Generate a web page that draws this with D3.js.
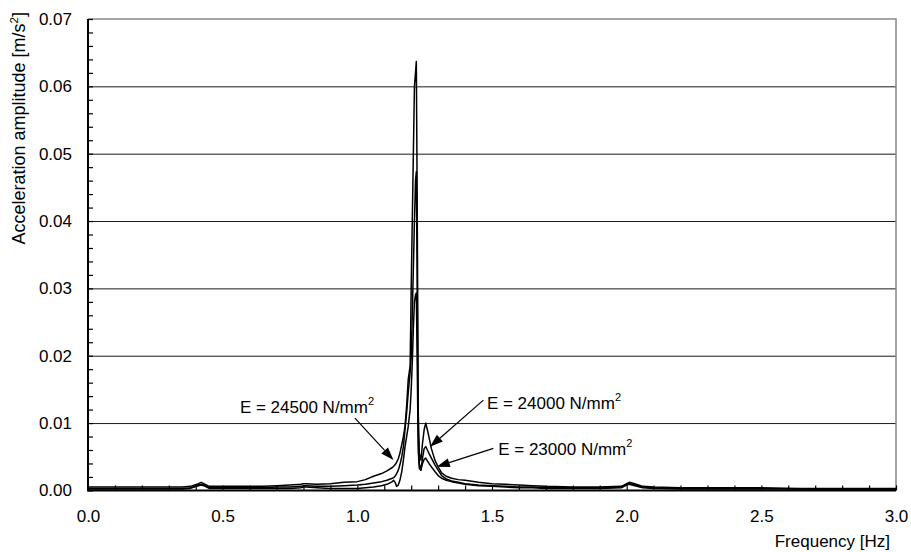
<!DOCTYPE html>
<html>
<head>
<meta charset="utf-8">
<script src="https://cdn.jsdelivr.net/npm/d3@7"></script>
<style>
  html, body { margin: 0; padding: 0; background: #fff; }
  svg { display: block; }
  text { font-family: "Liberation Sans", Arial, sans-serif; fill: #000; }
</style>
</head>
<body>
<svg id="chart" width="911" height="552"></svg>
<script>
// ---------- data ----------
const freq = [0.00,0.05,0.10,0.15,0.20,0.25,0.30,0.35,0.38,0.41,0.42,0.43,0.45,0.50,0.55,0.60,0.65,0.70,0.75,0.79,0.80,0.81,0.85,0.90,0.95,1.00,1.03,1.06,1.09,1.11,1.13,1.135,1.14,1.146,1.152,1.158,1.165,1.171,1.177,1.183,1.189,1.196,1.200,1.204,1.208,1.212,1.216,1.219,1.222,1.226,1.230,1.236,1.242,1.248,1.254,1.260,1.266,1.275,1.288,1.300,1.313,1.330,1.350,1.375,1.40,1.45,1.50,1.55,1.60,1.65,1.70,1.80,1.90,1.98,2.00,2.01,2.03,2.06,2.10,2.20,2.30,2.40,2.50,2.60,2.70,2.80,2.90,3.00];

const accE24500 = [0.0005,0.0005,0.0005,0.0005,0.0005,0.0005,0.0005,0.0005,0.0006,0.0010,0.0012,0.0010,0.0006,0.0006,0.0006,0.0006,0.0006,0.0007,0.0008,0.0009,0.0010,0.0010,0.0009,0.0010,0.0012,0.0013,0.0016,0.0021,0.0025,0.0029,0.0034,0.0036,0.0038,0.0042,0.0047,0.0055,0.0068,0.0080,0.0095,0.0125,0.0165,0.0185,0.0300,0.0400,0.0500,0.0600,0.0620,0.0637,0.0450,0.0120,0.0055,0.0045,0.0070,0.0090,0.0100,0.0090,0.0079,0.0062,0.0045,0.0035,0.0026,0.0021,0.0018,0.0016,0.0015,0.0012,0.0010,0.0009,0.0008,0.0007,0.0006,0.0005,0.0005,0.0006,0.0010,0.0012,0.0010,0.0006,0.0005,0.0004,0.0004,0.0004,0.0004,0.0003,0.0003,0.0003,0.0003,0.0003];

const accE24000 = [0.0003,0.0003,0.0003,0.0003,0.0003,0.0003,0.0003,0.0003,0.0004,0.0008,0.0009,0.0008,0.0004,0.0004,0.0004,0.0004,0.0004,0.0005,0.0005,0.0006,0.0007,0.0007,0.0006,0.0006,0.0007,0.0008,0.0009,0.0011,0.0013,0.0015,0.0018,0.0019,0.0021,0.0025,0.0030,0.0038,0.0050,0.0065,0.0090,0.0115,0.0145,0.0175,0.0200,0.0260,0.0330,0.0400,0.0460,0.0473,0.0320,0.0090,0.0040,0.0030,0.0048,0.0062,0.0065,0.0060,0.0055,0.0048,0.0038,0.0030,0.0022,0.0017,0.0014,0.0012,0.0010,0.0008,0.0007,0.0006,0.0005,0.0005,0.0004,0.0004,0.0004,0.0005,0.0009,0.0010,0.0008,0.0005,0.0004,0.0003,0.0003,0.0003,0.0003,0.0003,0.0002,0.0002,0.0002,0.0002];

const accE23000 = [0.0002,0.0002,0.0002,0.0002,0.0002,0.0002,0.0002,0.0002,0.0003,0.0007,0.0008,0.0007,0.0003,0.0003,0.0003,0.0003,0.0003,0.0003,0.0003,0.0004,0.0005,0.0005,0.0004,0.0003,0.0003,0.0003,0.0004,0.0005,0.0007,0.0009,0.0013,0.0015,0.0012,0.0006,0.0008,0.0015,0.0028,0.0045,0.0065,0.0080,0.0095,0.0120,0.0150,0.0190,0.0240,0.0280,0.0290,0.0293,0.0200,0.0060,0.0033,0.0030,0.0040,0.0046,0.0048,0.0044,0.0040,0.0035,0.0028,0.0022,0.0018,0.0015,0.0013,0.0011,0.0009,0.0007,0.0006,0.0005,0.0004,0.0004,0.0003,0.0003,0.0003,0.0004,0.0008,0.0009,0.0007,0.0004,0.0003,0.0002,0.0002,0.0002,0.0002,0.0002,0.0002,0.0002,0.0002,0.0002];

const xTicks = [0.0,0.5,1.0,1.5,2.0,2.5,3.0];
const xMinorTicks = d3.range(0, 31).map(i => i / 10);
const yTicks = [0.00,0.01,0.02,0.03,0.04,0.05,0.06,0.07];
const yMinorTicks = d3.range(0, 36).map(i => i * 0.002);
const gridValues = [0.01,0.02,0.03,0.04,0.05,0.06];

const annotationLabels = ["E = 24500 N/mm", "E = 24000 N/mm", "E = 23000 N/mm"];
// label anchor (freq, value) and arrow tail/tip (freq, value) in data units
const annotationText = [[0.564, 0.01144],[1.481, 0.01209],[1.523, 0.00525]];
const arrowTail = [[0.991, 0.01074],[1.468, 0.01341],[1.505, 0.00625]];
const arrowTip  = [[1.134, 0.00451],[1.270, 0.00648],[1.295, 0.00352]];

const xTitle = "Frequency [Hz]";
const yTitle = "Acceleration amplitude [m/s";

// ---------- chart ----------
const svg = d3.select("#chart");
const L = 88, R = 896, T = 19, B = 490.4;
const x = d3.scaleLinear().domain([0, 3]).range([L, R]);
const y = d3.scaleLinear().domain([0, 0.07]).range([B, T]);
const FS = 17;

// grid lines
svg.append("g")
  .attr("transform", `translate(${L},0)`)
  .call(d3.axisLeft(y).tickValues(gridValues).tickSize(-(R - L)).tickFormat(""))
  .call(g => g.select(".domain").remove())
  .call(g => g.selectAll("line").attr("stroke", "#1a1a1a").attr("stroke-width", 1));

// top & right border (grey)
svg.append("path")
  .attr("d", `M${L},${T}H${R}V${B}`)
  .attr("fill", "none").attr("stroke", "#888").attr("stroke-width", 1.5);

// series
const seriesList = [accE24500, accE24000, accE23000];
const line = d3.line().x((d, i) => x(freq[i])).y(d => y(d));
svg.append("g").selectAll("path").data(seriesList).join("path")
  .attr("d", d => line(d))
  .attr("fill", "none").attr("stroke", "#000").attr("stroke-width", 1.5)
  .attr("stroke-linejoin", "round");

// y axis (minor ticks inward)
svg.append("g")
  .attr("transform", `translate(${L},0)`)
  .call(d3.axisLeft(y).tickValues(yMinorTicks).tickSize(-5).tickFormat(""))
  .call(g => g.select(".domain").remove())
  .call(g => g.selectAll("line").attr("stroke", "#000").attr("stroke-width", 1.2));
svg.append("g")
  .attr("transform", `translate(${L},0)`)
  .call(d3.axisLeft(y).tickValues(yTicks).tickSize(0).tickPadding(16).tickFormat(d3.format(".2f")))
  .call(g => g.select(".domain").remove())
  .call(g => g.selectAll("text").attr("font-size", FS).attr("font-family", "Liberation Sans, Arial, sans-serif"));

// x axis
svg.append("g")
  .attr("transform", `translate(0,${B})`)
  .call(d3.axisBottom(x).tickValues(xMinorTicks).tickSize(-5).tickFormat(""))
  .call(g => g.select(".domain").remove())
  .call(g => g.selectAll("line").attr("stroke", "#000").attr("stroke-width", 1.2));
svg.append("g")
  .attr("transform", `translate(0,${B})`)
  .call(d3.axisBottom(x).tickValues(xTicks).tickSize(0).tickPadding(20).tickFormat(d3.format(".1f")))
  .call(g => g.select(".domain").remove())
  .call(g => g.selectAll("text").attr("font-size", FS).attr("font-family", "Liberation Sans, Arial, sans-serif"));

// left & bottom axis lines
svg.append("path")
  .attr("d", `M${L},${T}V${B}H${R}`)
  .attr("fill", "none").attr("stroke", "#000").attr("stroke-width", 2);

// axis titles
svg.append("text")
  .attr("x", 890).attr("y", 547)
  .attr("text-anchor", "end").attr("font-size", FS)
  .text(xTitle);

const yt = svg.append("text")
  .attr("transform", "translate(25,12) rotate(-90)")
  .attr("text-anchor", "end").attr("font-size", 18);
yt.append("tspan").text(yTitle);
yt.append("tspan").attr("font-size", 11.5).attr("dy", -7.5).text("2");
yt.append("tspan").attr("dy", 7.5).text("]");

// annotations
const ann = svg.append("g");
annotationLabels.forEach((lab, i) => {
  const t = ann.append("text")
    .attr("x", x(annotationText[i][0])).attr("y", y(annotationText[i][1]))
    .attr("font-size", FS);
  t.append("tspan").text(lab);
  t.append("tspan").attr("font-size", 11).attr("dy", -8).text("2");

  const x1 = x(arrowTail[i][0]), y1 = y(arrowTail[i][1]);
  const x2 = x(arrowTip[i][0]), y2 = y(arrowTip[i][1]);
  const ang = Math.atan2(y2 - y1, x2 - x1);
  const len = 13, hw = 4.5;
  const bx = x2 - len * Math.cos(ang), by = y2 - len * Math.sin(ang);
  ann.append("line")
    .attr("x1", x1).attr("y1", y1).attr("x2", bx).attr("y2", by)
    .attr("stroke", "#000").attr("stroke-width", 1.2);
  const px = -Math.sin(ang) * hw, py = Math.cos(ang) * hw;
  ann.append("path")
    .attr("d", `M${x2},${y2}L${bx + px},${by + py}L${bx - px},${by - py}Z`)
    .attr("fill", "#000");
});
</script>
</body>
</html>
